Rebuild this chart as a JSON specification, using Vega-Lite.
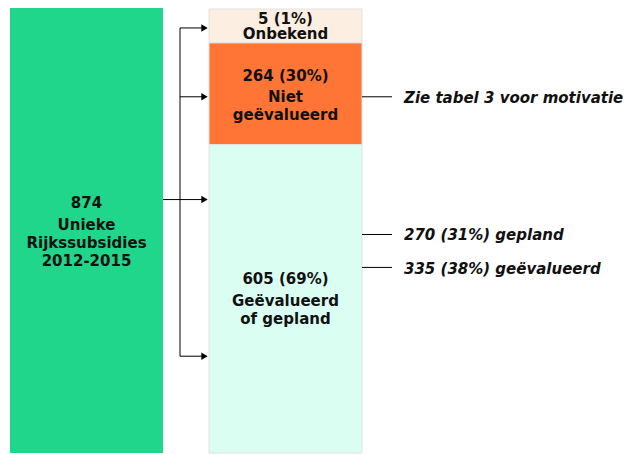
{
  "$schema": "https://vega.github.io/schema/vega-lite/v6.json",
  "width": 627,
  "height": 454,
  "autosize": {"type": "fit", "contains": "padding"},
  "padding": 0,
  "background": "white",
  "config": {"view": {"stroke": null}},
  "datasets": {
    "blocks": [
      {"kolom": "totaal", "segment": "Unieke Rijkssubsidies 2012-2015", "n": 874, "x0": 10, "x1": 163, "y0": 8, "y1": 454},
      {"kolom": "uitsplitsing", "segment": "Onbekend", "n": 5, "x0": 209, "x1": 362, "y0": 9, "y1": 43},
      {"kolom": "uitsplitsing", "segment": "Niet geëvalueerd", "n": 264, "x0": 209, "x1": 362, "y0": 43, "y1": 145},
      {"kolom": "uitsplitsing", "segment": "Geëvalueerd of gepland", "n": 605, "x0": 209, "x1": 362, "y0": 145, "y1": 454}
    ],
    "connectors": [
      {"deel": "stam", "x0": 180, "x1": 180, "y0": 28, "y1": 357},
      {"deel": "bron", "x0": 163, "x1": 180, "y0": 200, "y1": 200},
      {"deel": "Onbekend", "x0": 180, "x1": 203, "y0": 28, "y1": 28},
      {"deel": "Niet geëvalueerd", "x0": 180, "x1": 203, "y0": 97, "y1": 97},
      {"deel": "midden", "x0": 180, "x1": 203, "y0": 200, "y1": 200},
      {"deel": "Geëvalueerd of gepland", "x0": 180, "x1": 203, "y0": 357, "y1": 357},
      {"deel": "motivatie", "x0": 362, "x1": 392, "y0": 97, "y1": 97},
      {"deel": "gepland", "x0": 362, "x1": 392, "y0": 235, "y1": 235},
      {"deel": "geëvalueerd", "x0": 362, "x1": 392, "y0": 268, "y1": 268}
    ],
    "arrows": [
      {"doel": "Onbekend", "x": 204.5, "y": 28},
      {"doel": "Niet geëvalueerd", "x": 204.5, "y": 97},
      {"doel": "midden", "x": 204.5, "y": 200},
      {"doel": "Geëvalueerd of gepland", "x": 204.5, "y": 357}
    ],
    "labels": [
      {"tekst": "5 (1%)", "x": 285.5, "y": 24},
      {"tekst": "Onbekend", "x": 285.5, "y": 39},
      {"tekst": "264 (30%)", "x": 285.5, "y": 81.5},
      {"tekst": "Niet", "x": 285.5, "y": 102.5},
      {"tekst": "geëvalueerd", "x": 285.5, "y": 120.5},
      {"tekst": "605 (69%)", "x": 285.5, "y": 285},
      {"tekst": "Geëvalueerd", "x": 285.5, "y": 307},
      {"tekst": "of gepland", "x": 285.5, "y": 325},
      {"tekst": "874", "x": 86.5, "y": 208},
      {"tekst": "Unieke", "x": 86.5, "y": 230.5},
      {"tekst": "Rijkssubsidies", "x": 86.5, "y": 249},
      {"tekst": "2012-2015", "x": 86.5, "y": 267}
    ],
    "notes": [
      {"tekst": "Zie tabel 3 voor motivatie", "x": 404, "y": 103},
      {"tekst": "270 (31%) gepland", "x": 404, "y": 240.5},
      {"tekst": "335 (38%) geëvalueerd", "x": 404, "y": 275}
    ]
  },
  "layer": [
    {
      "data": {"name": "blocks"},
      "transform": [{"filter": "datum.kolom === 'totaal'"}],
      "mark": {"type": "rect"},
      "encoding": {
        "x": {"field": "x0", "type": "quantitative", "scale": {"domain": [0, 627], "nice": false, "zero": false}, "axis": null},
        "x2": {"field": "x1"},
        "y": {"field": "y0", "type": "quantitative", "scale": {"domain": [0, 454], "nice": false, "zero": false, "reverse": true}, "axis": null},
        "y2": {"field": "y1"},
        "color": {"field": "segment", "type": "nominal", "legend": null,
          "scale": {"domain": ["Unieke Rijkssubsidies 2012-2015", "Onbekend", "Niet geëvalueerd", "Geëvalueerd of gepland"],
                    "range": ["#1FD68B", "#FDEEE2", "#FE7535", "#DAFEF1"]}}
      }
    },
    {
      "data": {"name": "blocks"},
      "transform": [{"filter": "datum.kolom === 'uitsplitsing'"}],
      "mark": {"type": "rect", "stroke": "#e2e2e2", "strokeWidth": 1},
      "encoding": {
        "x": {"field": "x0", "type": "quantitative"},
        "x2": {"field": "x1"},
        "y": {"field": "y0", "type": "quantitative"},
        "y2": {"field": "y1"},
        "color": {"field": "segment", "type": "nominal", "legend": null}
      }
    },
    {
      "data": {"name": "connectors"},
      "mark": {"type": "rule", "color": "#000000", "strokeWidth": 1},
      "encoding": {
        "x": {"field": "x0", "type": "quantitative"},
        "x2": {"field": "x1"},
        "y": {"field": "y0", "type": "quantitative"},
        "y2": {"field": "y1"}
      }
    },
    {
      "data": {"name": "arrows"},
      "mark": {"type": "point", "shape": "triangle-right", "filled": true, "color": "#000000", "size": 55, "opacity": 1},
      "encoding": {
        "x": {"field": "x", "type": "quantitative"},
        "y": {"field": "y", "type": "quantitative"}
      }
    },
    {
      "data": {"name": "labels"},
      "mark": {"type": "text", "font": "DejaVu Sans", "fontWeight": "bold", "fontSize": 15, "align": "center", "baseline": "alphabetic", "color": "#111111"},
      "encoding": {
        "x": {"field": "x", "type": "quantitative"},
        "y": {"field": "y", "type": "quantitative"},
        "text": {"field": "tekst", "type": "nominal"}
      }
    },
    {
      "data": {"name": "notes"},
      "mark": {"type": "text", "font": "DejaVu Sans", "fontWeight": "bold", "fontStyle": "italic", "fontSize": 15, "align": "left", "baseline": "alphabetic", "color": "#111111"},
      "encoding": {
        "x": {"field": "x", "type": "quantitative"},
        "y": {"field": "y", "type": "quantitative"},
        "text": {"field": "tekst", "type": "nominal"}
      }
    }
  ]
}
